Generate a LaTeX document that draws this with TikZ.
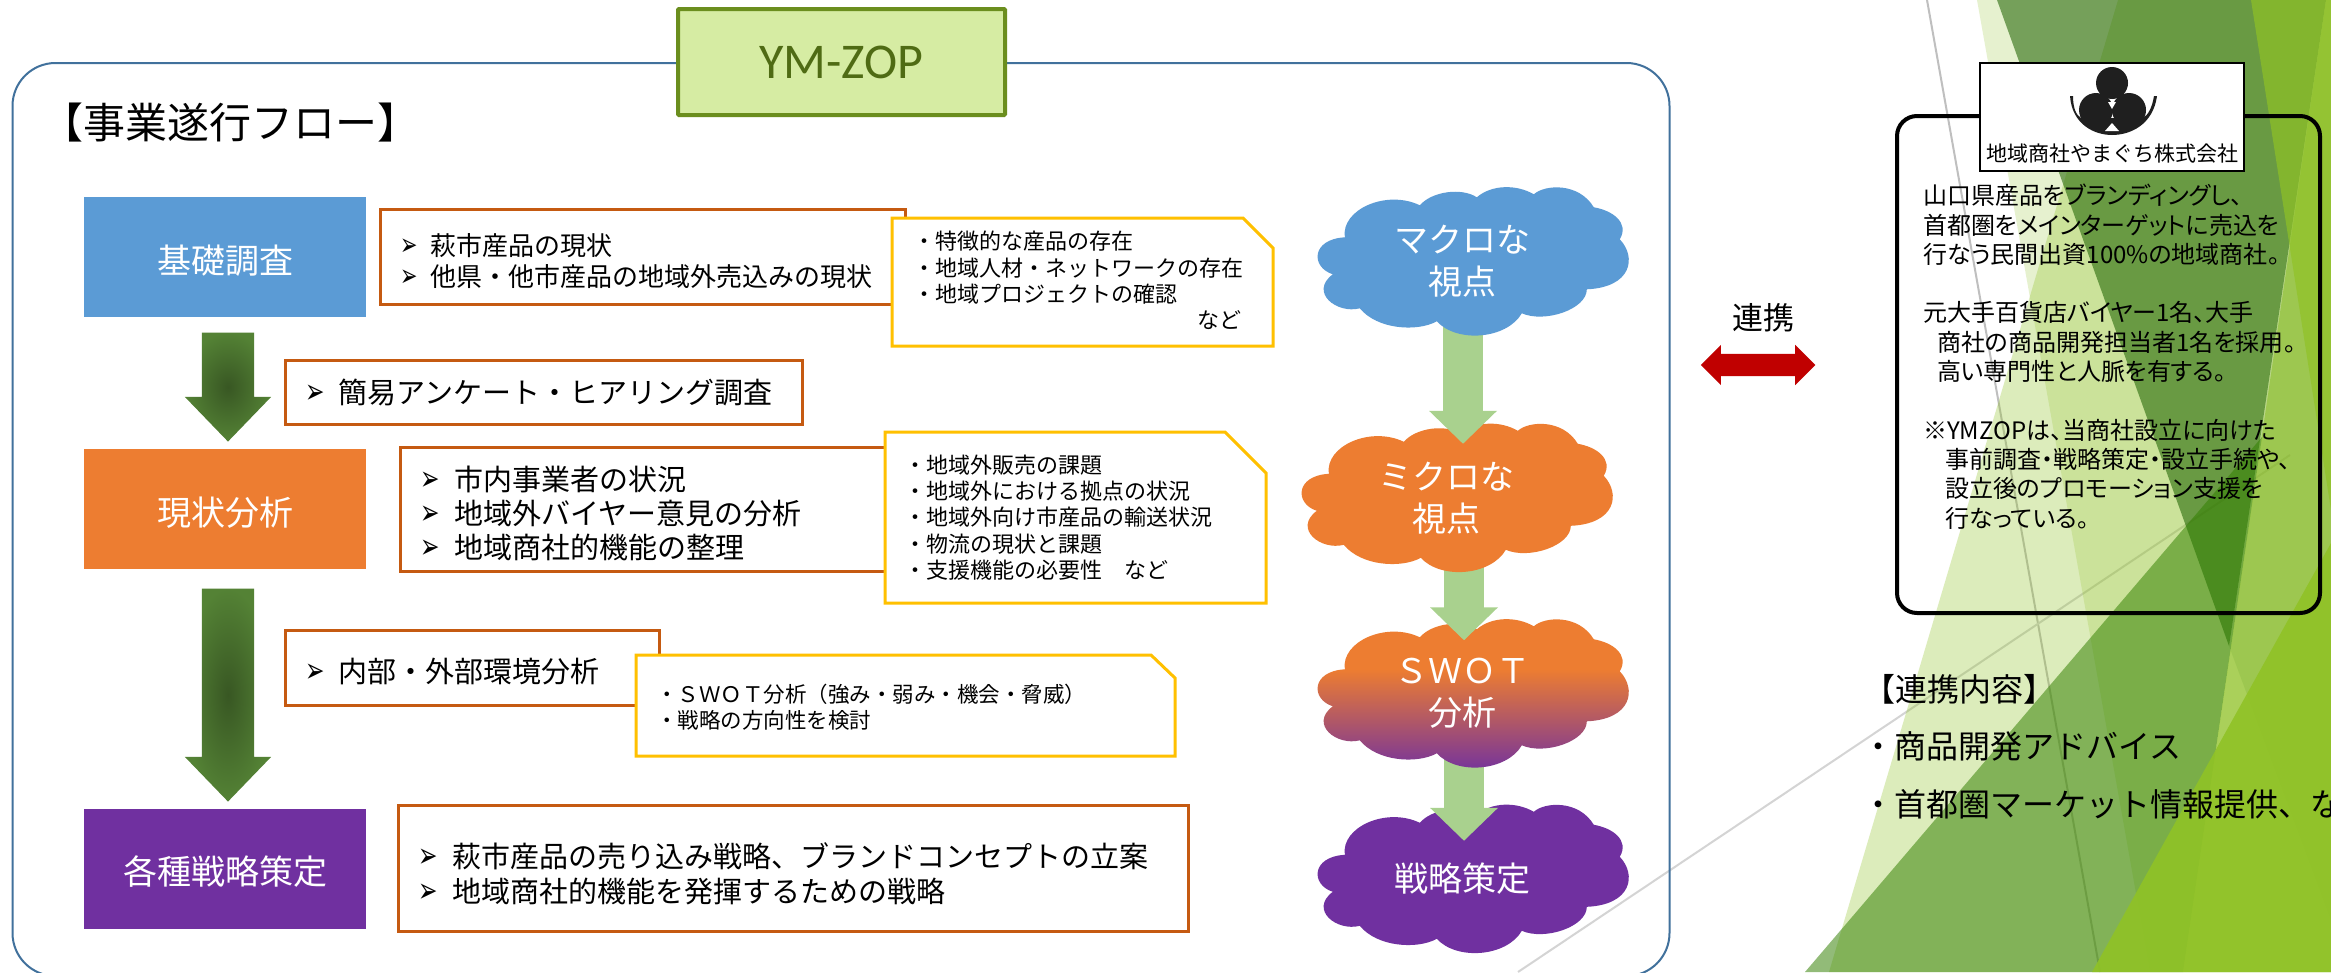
\documentclass[tikz,border=0pt]{standalone}
\usepackage{fontspec}
\setmainfont{Noto Sans CJK JP}
\newfontfamily\propfont[RawFeature=+palt]{Noto Sans CJK JP}
\newfontfamily\symbfont{DejaVu Sans}
\newfontfamily\latinfont{Carlito}
\usetikzlibrary{arrows.meta, positioning, shapes.arrows}

\definecolor{boxblue}{HTML}{5B9BD5}
\definecolor{boxorange}{HTML}{ED7D31}
\definecolor{boxpurple}{HTML}{7030A0}
\definecolor{frameblue}{HTML}{41719C}
\definecolor{rimorange}{HTML}{C55A11}
\definecolor{rimyellow}{HTML}{FFC000}
\definecolor{flowgreen}{HTML}{A9D18E}
\definecolor{stepdark}{HTML}{385723}
\definecolor{steplight}{HTML}{548235}
\definecolor{tagfill}{HTML}{D6ECA3}
\definecolor{tagrim}{HTML}{6B8E1E}
\definecolor{tagtext}{HTML}{4F6B14}
\definecolor{linkred}{HTML}{C00000}
\definecolor{facetlime}{HTML}{90C226}
\definecolor{facetdeep}{HTML}{1E6200}
\definecolor{facetmid}{HTML}{328000}

\pgfdeclareverticalshading{swotfade}{100bp}{color(0bp)=(boxpurple); color(25bp)=(boxpurple); color(58bp)=(boxorange); color(100bp)=(boxorange)}

\newcommand{\arrowitem}{\makebox[1.15em][l]{\smash{\scalebox{.8}[1.2]{\symbfont ➢}}}}
\newcommand{\puffcloud}[2]{
    \path[#2, shift={(#1.north west)}] (16,87)
    .. controls (-6,80) and (-6,52) .. (28,50)
    .. controls (24,22) and (70,2) .. (103,18)
    .. controls (115,4) and (145,0) .. (160,10)
    .. controls (175,-3) and (200,-3) .. (217,7)
    .. controls (228,-3) and (262,-5) .. (277,20)
    .. controls (295,23) and (313,35) .. (303,52)
    .. controls (320,70) and (315,100) .. (270,102)
    .. controls (270,122) and (228,136) .. (205,126)
    .. controls (190,152) and (140,156) .. (120,134)
    .. controls (100,145) and (60,142) .. (43,121)
    .. controls (20,127) and (-8,105) .. (16,87) -- cycle;
}
\newcommand{\snipbox}[6]{
    \draw[snipline] (#1,#2) -- (#5,#2) -- (#3,#6) -- (#3,#4) -- (#1,#4) -- cycle;
}

\tikzset{
    stagebox/.style={minimum width=282pt, minimum height=120pt, inner sep=0pt, text=white, text height=35pt, text depth=3pt, font=\fontsize{34}{40}\selectfont},
    detailbox/.style={draw=rimorange, fill=white, line width=3pt, inner xsep=20pt, inner ysep=0pt, align=left},
    pushdown/.style={execute at begin node={\rule{0pt}{#1}}},
    snipline/.style={draw=rimyellow, fill=white, line width=3pt},
    sniptext/.style={anchor=west, inner sep=0pt, align=left, font=\fontsize{22}{26.3}\selectfont},
    cloudbox/.style={minimum width=312pt, minimum height=148pt, inner sep=0pt},
    cloudtext/.style={xshift=-11pt, inner sep=0pt, align=center, text=white, font=\fontsize{34}{42}\selectfont},
    flowarrow/.style={draw=flowgreen, line width=40pt, -{Triangle[length=33pt,width=66pt]}},
    steparrow/.style={single arrow, shape border rotate=270, minimum width=86pt, inner xsep=26pt, inner ysep=0pt, single arrow head extend=17pt, single arrow tip angle=88, shade, inner color=stepdark, outer color=steplight},
    linktext/.style={anchor=west, inner sep=0pt, font=\fontsize{32}{38}\selectfont},
}

\begin{document}
\begin{tikzpicture}[x=1pt, y=-1pt]
    \useasboundingbox (0,0) rectangle (2331,972);
    \fill[white] (0,0) rectangle (2331,972);

    \draw[black!25, line width=2pt] (1927,0) -- (2100,972);
    \draw[black!17, line width=2pt] (1518,972) -- (2290,455);
    \fill[facetlime, opacity=.22] (1977,0) -- (2150,972) -- (2331,972) -- (2331,0) -- cycle;
    \fill[facetlime, opacity=.31] (2118,0) -- (1829,972) -- (2331,972) -- (2331,0) -- cycle;
    \fill[facetdeep, opacity=.56] (1997,0) -- (2326,0) -- (2229,646) -- cycle;
    \fill[facetmid, opacity=.53] (1805,972) -- (2262,437) -- (2183,972) -- cycle;
    \fill[facetlime, opacity=.55] (2326,0) -- (2331,0) -- (2331,972) -- (2183,972) -- cycle;
    \fill[facetmid, opacity=.1] (2229,646) -- (2331,920) -- (2331,0) -- (2326,0) -- cycle;
    \fill[facetlime, opacity=.69] (2251,0) -- (2331,0) -- (2331,510) -- cycle;
    \fill[facetlime, opacity=.9] (2092,972) -- (2331,543) -- (2331,972) -- cycle;

    \node[draw=frameblue, line width=2pt, rounded corners=43pt, minimum width=1657pt, minimum height=913pt] (flowframe) at (841,519.5) {};
    \node[draw=tagrim, fill=tagfill, line width=4pt, rounded corners=1pt, minimum width=327pt, minimum height=106pt, text=tagtext, font=\latinfont\fontsize{50}{60}\selectfont] (ymzop) at (841.5,62) {YM-ZOP};
    \node[anchor=west, inner sep=0pt, font=\fontsize{42}{50}\selectfont] (flowtitle) at (41,123) {【事業遂行フロー】};

    \node[stagebox, fill=boxblue] (kiso) at (225,257) {基礎調査};
    \node[stagebox, fill=boxorange, below=132pt of kiso] (genjo) {現状分析};
    \node[stagebox, fill=boxpurple, below=239pt of genjo] (senryaku) {各種戦略策定};
    \node[steparrow, minimum height=109pt] (step1) at (228,373.5) {};
    \node[steparrow, minimum height=213pt] (step2) at (228,681.5) {};

    \node[detailbox, pushdown=30pt, right=13pt of kiso, minimum height=95pt, text width=485pt, font=\fontsize{26}{31}\selectfont] (kisolist) {\arrowitem 萩市産品の現状\\\arrowitem 他県・他市産品の地域外売込みの現状};
    \node[detailbox, anchor=north west, minimum height=64pt, text width=477pt, font=\fontsize{29}{34}\selectfont] (survey) at (284,359) {\arrowitem 簡易アンケート・ヒアリング調査};
    \node[detailbox, pushdown=32pt, right=33pt of genjo, minimum height=124pt, text width=451pt, font=\fontsize{29}{34}\selectfont] (genjolist) {\arrowitem 市内事業者の状況\\\arrowitem 地域外バイヤー意見の分析\\\arrowitem 地域商社的機能の整理};
    \node[detailbox, pushdown=32pt, anchor=north west, minimum height=75pt, text width=334pt, font=\fontsize{29}{34}\selectfont] (kankyo) at (284,629) {\arrowitem 内部・外部環境分析};
    \node[detailbox, pushdown=35pt, right=31pt of senryaku, minimum height=126pt, text width=750pt, font=\fontsize{29}{35}\selectfont] (senryakulist) {\arrowitem 萩市産品の売り込み戦略、ブランドコンセプトの立案\\\arrowitem 地域商社的機能を発揮するための戦略};

    \snipbox{892}{218}{1273}{346}{1243}{248}
    \snipbox{885}{432}{1266}{603}{1225}{473}
    \snipbox{636}{655}{1175}{756}{1151}{678}
    \node[sniptext] (kisonote) at (913,280.5) {・特徴的な産品の存在\\・地域人材・ネットワークの存在\\・地域プロジェクトの確認\\\hspace*{284pt}など};
    \node[sniptext] (genjonote) at (904,517.5) {・地域外販売の課題\\・地域外における拠点の状況\\・地域外向け市産品の輸送状況\\・物流の現状と課題\\・支援機能の必要性　など};
    \node[sniptext, font=\fontsize{21.5}{26.3}\selectfont] (swotnote) at (656,707.5) {・ＳＷＯＴ分析（強み・弱み・機会・脅威）\\・戦略の方向性を検討};

    \node[cloudbox] (macro) at (1473,261.5) {};
    \node[cloudbox] (micro) at (1457,498) {};
    \node[cloudbox] (swot) at (1473,693.5) {};
    \node[cloudbox] (goal) at (1473,879) {};
    \puffcloud{goal}{fill=boxpurple}
    \draw[flowarrow] ([xshift=-9pt]swot.center) -- ([xshift=-9pt,yshift=-36pt]goal.north);
    \puffcloud{swot}{shading=swotfade}
    \draw[flowarrow] ([xshift=7pt]micro.center) -- ([xshift=-9pt,yshift=-21pt]swot.north);
    \puffcloud{micro}{fill=boxorange}
    \draw[flowarrow] ([xshift=-10pt]macro.center) -- ([xshift=6pt,yshift=-20pt]micro.north);
    \puffcloud{macro}{fill=boxblue}
    \node[cloudtext] (macrotext) at (macro) {マクロな\\視点};
    \node[cloudtext] (microtext) at (micro) {ミクロな\\視点};
    \node[cloudtext] (swottext) at (swot) {ＳＷＯＴ\\分析};
    \node[cloudtext] (goaltext) at (goal) {戦略策定};

    \node[double arrow, fill=linkred, minimum height=114.5pt, minimum width=40pt, inner xsep=0pt, inner ysep=11pt, double arrow head extend=9pt] (linkarrow) at (1758,365) {};
    \node[inner sep=0pt, font=\fontsize{31}{36}\selectfont] (linklabel) at (1763,318) {連携};

    \node[draw=black, line width=4pt, rounded corners=20pt, minimum width=423pt, minimum height=497pt] (company) at (2108.5,364.5) {};
    \node[draw=black, fill=white, line width=2pt, minimum width=264pt, minimum height=108pt] (logobox) at (2112,117) {};
    \fill[black!88] (2070,96) .. controls (2072,125) and (2095,135) .. (2112,135) .. controls (2130,135) and (2153,125) .. (2157,96) -- (2154,96) .. controls (2152,108) and (2148,115) .. (2143,118) -- (2081,118) .. controls (2076,115) and (2073,108) .. (2073,96) -- cycle;
    \fill[black!88] (2112,83) circle (16);
    \fill[black!88] (2096,110) circle (17);
    \fill[black!88] (2129,110) circle (17);
    \fill[white] (2108,102) -- (2116,102) -- (2112,109) -- cycle;
    \fill[white] (2105,131) -- (2119,131) -- (2112,123) -- cycle;
    \node[inner sep=0pt, font=\fontsize{21}{25}\selectfont] (logotext) at (2112,154) {地域商社やまぐち株式会社};
    \node[anchor=north west, inner sep=0pt, align=left, font=\propfont\fontsize{24}{29.3}\selectfont] (companytext) at (1923,184) {山口県産品をブランディングし、\\首都圏をメインターゲットに売込を\\行なう民間出資100\%の地域商社。\\[29.3pt]元大手百貨店バイヤー1名、大手\\\hspace*{14pt}商社の商品開発担当者1名を採用。\\\hspace*{14pt}高い専門性と人脈を有する。\\[29.3pt]※YMZOPは、当商社設立に向けた\\\hspace*{22pt}事前調査・戦略策定・設立手続や、\\\hspace*{22pt}設立後のプロモーション支援を\\\hspace*{22pt}行なっている。};

    \node[linktext] (linkhead) at (1863,689) {【連携内容】};
    \node[linktext] (linkitem1) at (1862,746) {・商品開発アドバイス};
    \node[linktext] (linkitem2) at (1862,804) {・首都圏マーケット情報提供、など};
\end{tikzpicture}
\end{document}
